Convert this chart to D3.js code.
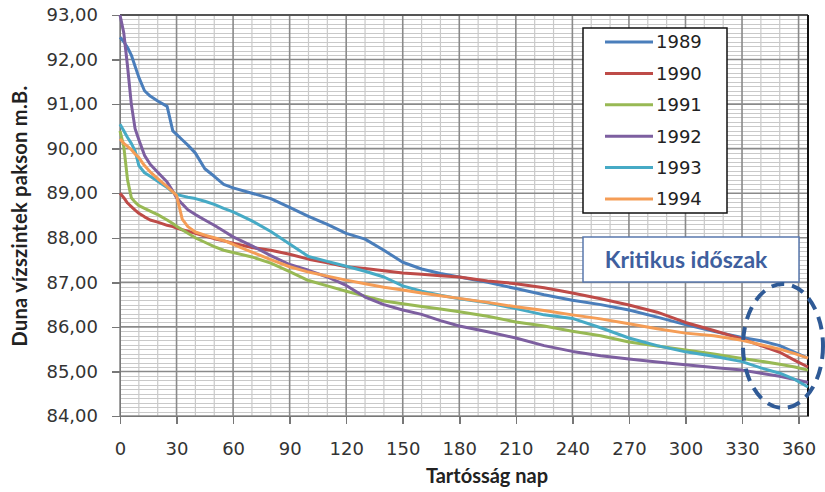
<!DOCTYPE html>
<html lang="en">
<head>
  <meta charset="UTF-8">
  <title>Duna vízszintek pakson</title>
  <style>
    body {
      margin: 0;
      background: #fff;
    }
    .tick text {
      font-family: "DejaVu Sans", Verdana, sans-serif;
      font-size: 18px;
      fill: #333;
    }
    .axis path,
    .axis line {
      stroke: #777;
      stroke-width: 1.5;
      shape-rendering: crispEdges;
    }
    .title {
      font-family: Lato, "Open Sans", sans-serif;
      font-weight: bold;
      fill: #222;
    }
  </style>
  <script src="https://d3js.org/d3.v7.min.js"></script>
</head>
<body>
  <div id="chart"></div>
  <script>
    // tartóssági görbék, napok
    var days = [0, 2, 4, 6, 8, 10, 13, 16, 20, 25, 28, 30, 33, 36, 40, 45, 50, 55, 60, 70, 80, 90,
      100, 110, 120, 130, 140, 150, 160, 170, 180, 195, 210, 225, 240, 255, 270, 285, 300, 315,
      330, 340, 350, 358, 365];

    var y1989 = [92.5, 92.4, 92.27, 92.1, 91.85, 91.6, 91.3, 91.18, 91.07, 90.95, 90.4, 90.32, 90.2, 90.08,
      89.9, 89.55, 89.38, 89.2, 89.12, 89.0, 88.88, 88.68, 88.48, 88.3, 88.1, 87.97, 87.72, 87.45, 87.3,
      87.2, 87.12, 87.0, 86.86, 86.72, 86.6, 86.5, 86.38, 86.22, 86.05, 85.9, 85.76, 85.69, 85.58, 85.43, 85.3];
    var y1990 = [89.0, 88.9, 88.78, 88.7, 88.62, 88.55, 88.47, 88.4, 88.35, 88.28, 88.25, 88.22, 88.18, 88.15,
      88.1, 88.04, 87.98, 87.93, 87.88, 87.78, 87.72, 87.63, 87.52, 87.44, 87.35, 87.31, 87.26, 87.21, 87.18,
      87.15, 87.12, 87.03, 86.97, 86.88, 86.76, 86.63, 86.49, 86.33, 86.1, 85.92, 85.73, 85.58, 85.43, 85.25, 85.1];
    var y1991 = [90.4, 90.05, 89.3, 88.9, 88.8, 88.72, 88.66, 88.6, 88.52, 88.4, 88.32, 88.26, 88.18, 88.1,
      88.0, 87.9, 87.8, 87.72, 87.67, 87.57, 87.43, 87.24, 87.04, 86.92, 86.8, 86.69, 86.58, 86.52, 86.46,
      86.4, 86.34, 86.24, 86.11, 86.02, 85.9, 85.8, 85.66, 85.57, 85.48, 85.39, 85.29, 85.23, 85.16, 85.1, 85.03];
    var y1992 = [93.0, 92.6, 91.85, 91.0, 90.45, 90.2, 89.85, 89.65, 89.47, 89.25, 89.05, 88.9, 88.76, 88.63,
      88.52, 88.4, 88.28, 88.15, 88.02, 87.82, 87.6, 87.4, 87.27, 87.12, 86.93, 86.67, 86.5, 86.38, 86.28,
      86.14, 86.02, 85.89, 85.75, 85.58, 85.45, 85.35, 85.28, 85.21, 85.15, 85.09, 85.03, 84.96, 84.89, 84.82, 84.75];
    var y1993 = [90.55, 90.4, 90.25, 90.12, 89.95, 89.62, 89.46, 89.38, 89.27, 89.13, 89.02, 88.97, 88.94, 88.91,
      88.88, 88.82, 88.75, 88.66, 88.58, 88.38, 88.14, 87.86, 87.58, 87.47, 87.36, 87.25, 87.12, 86.92, 86.8,
      86.71, 86.63, 86.54, 86.41, 86.27, 86.19, 85.98, 85.75, 85.58, 85.44, 85.34, 85.22, 85.08, 84.96, 84.82, 84.65];
    var y1994 = [90.22, 90.12, 90.05, 89.98, 89.88, 89.8, 89.62, 89.48, 89.33, 89.15, 89.03, 88.95, 88.42, 88.25,
      88.13, 88.06, 88.0, 87.94, 87.85, 87.68, 87.51, 87.35, 87.23, 87.14, 87.05, 86.97, 86.89, 86.83, 86.76,
      86.7, 86.64, 86.55, 86.45, 86.37, 86.27, 86.18, 86.07, 85.96, 85.86, 85.8, 85.7, 85.6, 85.5, 85.4, 85.3];

    var years = ['1989', '1990', '1991', '1992', '1993', '1994'];
    var levels = [y1989, y1990, y1991, y1992, y1993, y1994];
    var colors = ['#4a7ebb', '#be4b48', '#98b954', '#7d5fa0', '#46aac5', '#f59d56'];

    var xTicks = [0, 30, 60, 90, 120, 150, 180, 210, 240, 270, 300, 330, 360];
    var yTicks = [84, 85, 86, 87, 88, 89, 90, 91, 92, 93];

    var width = 825, height = 492;
    var margin = {top: 15, right: 17, bottom: 76, left: 120};
    var w = width - margin.left - margin.right,
        h = height - margin.top - margin.bottom;

    var x = d3.scaleLinear().domain([0, 365]).range([0, w]);
    var y = d3.scaleLinear().domain([84, 93]).range([h, 0]);

    var svg = d3.select('#chart').append('svg')
      .attr('width', width)
      .attr('height', height);
    var g = svg.append('g')
      .attr('transform', 'translate(' + margin.left + ',' + margin.top + ')');

    //minor grid
    g.append('g').selectAll('line')
      .data(d3.range(841, 930).map(function(d) { return d / 10; }).filter(function(d) { return Math.round(d * 10) % 10 !== 0; }))
      .enter().append('line')
      .attr('x1', 0).attr('x2', w)
      .attr('y1', function(d) { return Math.round(y(d)) + 0.5; })
      .attr('y2', function(d) { return Math.round(y(d)) + 0.5; })
      .attr('stroke', '#c9c9c9').attr('stroke-width', 1);
    g.append('g').selectAll('line')
      .data(d3.range(10, 366, 10).filter(function(d) { return d % 30 !== 0; }))
      .enter().append('line')
      .attr('y1', 0).attr('y2', h)
      .attr('x1', function(d) { return x(d); })
      .attr('x2', function(d) { return x(d); })
      .attr('stroke', '#c9c9c9').attr('stroke-width', 1.2);

    //major grid
    g.append('g').selectAll('line')
      .data(yTicks)
      .enter().append('line')
      .attr('x1', 0).attr('x2', w)
      .attr('y1', function(d) { return y(d); })
      .attr('y2', function(d) { return y(d); })
      .attr('stroke', '#8a8a8a').attr('stroke-width', 1.6);
    g.append('g').selectAll('line')
      .data(xTicks)
      .enter().append('line')
      .attr('y1', 0).attr('y2', h)
      .attr('x1', function(d) { return x(d); })
      .attr('x2', function(d) { return x(d); })
      .attr('stroke', '#8a8a8a').attr('stroke-width', 1.6);

    // top and right frame
    g.append('line').attr('x1', 0).attr('x2', w).attr('y1', 0).attr('y2', 0)
      .attr('stroke', '#555').attr('stroke-width', 2);
    g.append('line').attr('x1', w).attr('x2', w).attr('y1', 0).attr('y2', h)
      .attr('stroke', '#111').attr('stroke-width', 2);

    //axes
    g.append('g').attr('class', 'axis')
      .attr('transform', 'translate(0,' + h + ')')
      .call(d3.axisBottom(x).tickValues(xTicks).tickSize(8).tickPadding(18).tickSizeOuter(0));
    g.append('g').attr('class', 'axis')
      .call(d3.axisLeft(y).tickValues(yTicks).tickSize(8).tickPadding(14).tickSizeOuter(0)
        .tickFormat(function(d) { return d3.format('.2f')(d).replace('.', ','); }));

    //lines
    var line = d3.line()
      .x(function(d) { return x(d[0]); })
      .y(function(d) { return y(d[1]); });

    g.append('g').selectAll('path')
      .data(levels)
      .enter().append('path')
      .attr('d', function(d) { return line(d3.zip(days, d)); })
      .attr('fill', 'none')
      .attr('stroke', function(d, i) { return colors[i]; })
      .attr('stroke-width', 3)
      .attr('stroke-linejoin', 'round');

    //legend
    var leg = svg.append('g').attr('transform', 'translate(583,28)');
    leg.append('rect')
      .attr('width', 144).attr('height', 185)
      .attr('fill', '#fff').attr('stroke', '#111').attr('stroke-width', 1.5);
    var item = leg.selectAll('.item')
      .data(years)
      .enter().append('g')
      .attr('transform', function(d, i) { return 'translate(0,' + (14 + i * 31.4) + ')'; });
    item.append('line')
      .attr('x1', 22).attr('x2', 70)
      .attr('stroke', function(d, i) { return colors[i]; })
      .attr('stroke-width', 3);
    item.append('text')
      .attr('x', 73)
      .attr('dy', '0.36em')
      .style('font-family', '"DejaVu Sans", Verdana, sans-serif')
      .style('font-size', '18px')
      .attr('fill', '#222')
      .text(function(d) { return d; });

    // kritikus időszak
    svg.append('rect')
      .attr('x', 583).attr('y', 237).attr('width', 216).attr('height', 45)
      .attr('fill', '#fff').attr('stroke', '#5a78ad').attr('stroke-width', 1.5);
    svg.append('text')
      .attr('x', 686).attr('y', 268)
      .attr('text-anchor', 'middle')
      .style('font-family', 'Lato, sans-serif')
      .style('font-weight', 'bold')
      .style('font-size', '23px')
      .attr('fill', '#3f5f9e')
      .text('Kritikus időszak');
    svg.append('ellipse')
      .attr('cx', 783).attr('cy', 346).attr('rx', 40).attr('ry', 62)
      .attr('fill', 'none')
      .attr('stroke', '#2f5a96')
      .attr('stroke-width', 4)
      .attr('stroke-dasharray', '13,8');

    //axis titles
    svg.append('text').attr('class', 'title')
      .attr('x', 487).attr('y', 483)
      .attr('text-anchor', 'middle')
      .style('font-size', '20px')
      .text('Tartósság nap');
    svg.append('text').attr('class', 'title')
      .attr('transform', 'translate(27,216) rotate(-90)')
      .attr('text-anchor', 'middle')
      .style('font-size', '20px')
      .style('letter-spacing', '0.3px')
      .text('Duna vízszintek pakson m.B.');
  </script>
</body>
</html>
